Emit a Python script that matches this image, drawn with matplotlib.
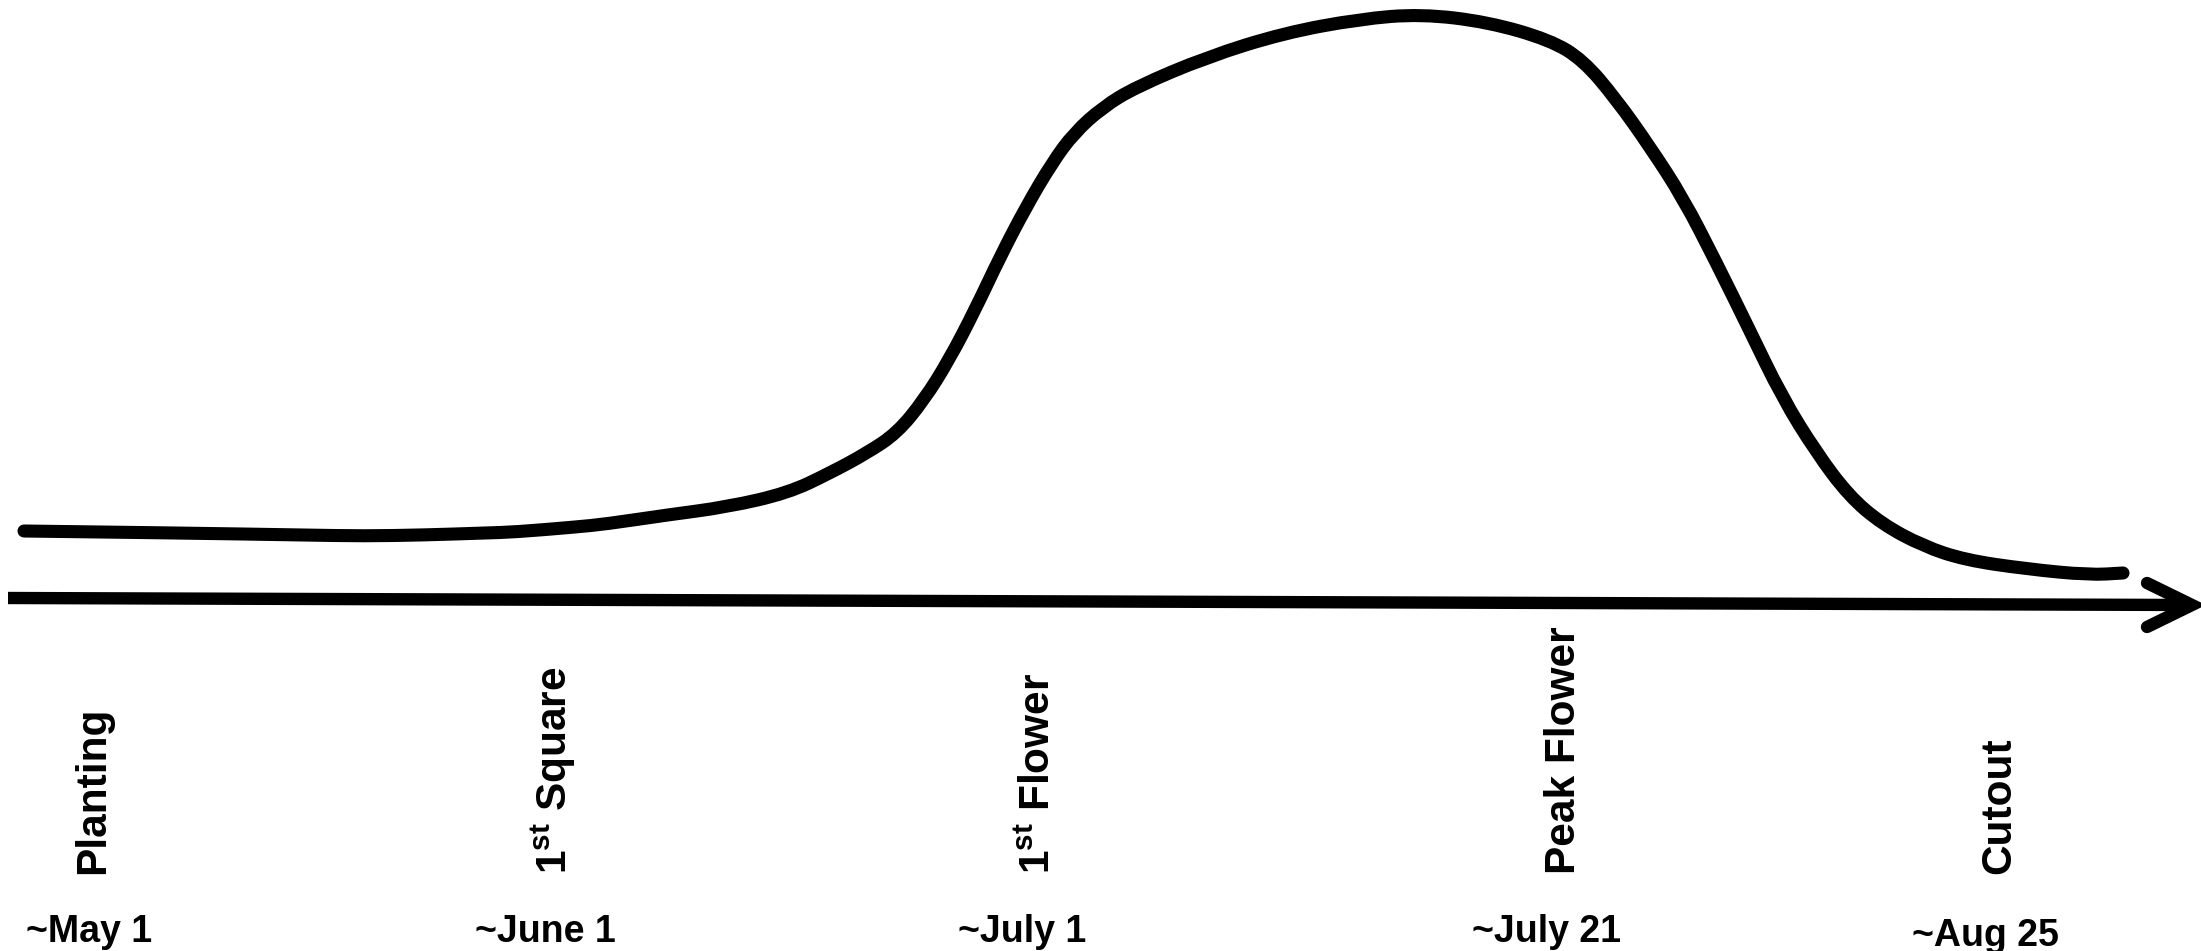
# Cotton crop stage timeline - schematic growth curve with stage labels
import matplotlib
matplotlib.use("Agg")
import matplotlib.pyplot as plt
from matplotlib.path import Path
from matplotlib.patches import PathPatch

# Canvas units: x runs left to right across the figure, y runs top to bottom
# (the axes are inverted below so the values)
curve_x = [24, 182, 303, 364, 424, 485, 515, 576, 606, 667, 727, 788, 830,
           867, 897, 924, 949, 975, 1000, 1026, 1052, 1074, 1103, 1136, 1207,
           1284, 1360, 1421, 1488, 1550, 1583, 1616, 1650, 1683, 1716, 1749,
           1782, 1816, 1849, 1882, 1923, 1965, 2027, 2089, 2123]
curve_y = [531, 533, 535, 536, 535, 533, 532, 527, 524, 515, 507, 493, 473,
           453, 433, 400, 360, 310, 257, 207, 163, 133, 107, 87, 57,
           33, 19, 14, 22, 40, 60, 99, 147, 198, 262, 329,
           397, 452, 496, 524, 546, 560, 569, 575, 573]

stages = ["Planting", r"$\mathbf{1^{st}}$ Square", r"$\mathbf{1^{st}}$ Flower",
          "Peak Flower", "Cutout"]
stage_x = [104, 567, 1050, 1575, 2010]
dates = ["~May 1", "~June 1", "~July 1", "~July 21", "~Aug 25"]
date_x = [89, 545, 1022, 1547, 1985]

# Time axis (slightly tilted line ending in an open arrow head)
axis_start = (8, 598)
axis_end = (2192, 605)

plt.rcParams["mathtext.fontset"] = "custom"
plt.rcParams["mathtext.bf"] = "Liberation Sans:bold"
plt.rcParams["mathtext.rm"] = "Liberation Sans:bold"

fig = plt.figure(figsize=(22.01, 9.51), dpi=100)
ax = fig.add_axes([0, 0, 1, 1])
ax.set_xlim(0, 2201)
ax.set_ylim(951, 0)
ax.axis("off")

# Growth curve, drawn as a smooth quadratic path through the read points
pts = list(zip(curve_x, curve_y))
verts = [pts[0]]
codes = [Path.MOVETO]
for i in range(1, len(pts) - 1):
    mid = ((pts[i][0] + pts[i + 1][0]) / 2, (pts[i][1] + pts[i + 1][1]) / 2)
    verts += [pts[i], mid]
    codes += [Path.CURVE3, Path.CURVE3]
verts.append(pts[-1])
codes.append(Path.LINETO)
ax.add_patch(PathPatch(Path(verts, codes), fill=False, edgecolor="black",
                       lw=9.4, capstyle="round", joinstyle="round"))

# Time axis with open arrow head
ax.plot([axis_start[0], axis_end[0] - 4], [axis_start[1], axis_end[1]],
        color="black", lw=8.9, solid_capstyle="butt")
head_len, head_half = 45, 22
ax.plot([axis_end[0] - head_len, axis_end[0], axis_end[0] - head_len],
        [axis_end[1] - head_half, axis_end[1], axis_end[1] + head_half],
        color="black", lw=8.9, solid_capstyle="round", solid_joinstyle="miter")

# Stage names, rotated, anchored at the start of their baseline
for name, x in zip(stages, stage_x):
    ax.text(x, 874, name, rotation=90, rotation_mode="anchor",
            ha="left", va="baseline", fontsize=30.5, fontweight="bold",
            family=["Liberation Sans", "DejaVu Sans"])

# Approximate dates
for i, (d, x) in enumerate(zip(dates, date_x)):
    y = 946 if i == len(dates) - 1 else 942
    ax.text(x, y, d, ha="center", va="baseline", fontsize=27,
            fontweight="bold", family=["Liberation Sans", "DejaVu Sans"])

fig.savefig("out.png", dpi=100, facecolor="white")
